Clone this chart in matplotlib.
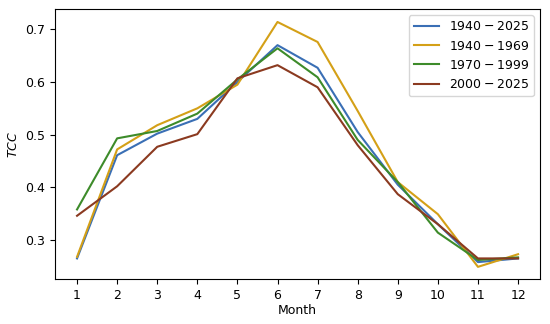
import numpy as np
from matplotlib import pyplot as plt

months = list(range(1, 13))
labels = ['$1940-2025$', '$1940-1969$', '$1970-1999$', '$2000-2025$']
tcc_all = [0.265, 0.461, 0.502, 0.530, 0.600, 0.670, 0.627, 0.505, 0.405, 0.330, 0.258, 0.265]
tcc_4069 = [0.268, 0.472, 0.518, 0.550, 0.595, 0.714, 0.676, 0.545, 0.410, 0.349, 0.249, 0.273]
tcc_7099 = [0.358, 0.493, 0.507, 0.540, 0.605, 0.664, 0.609, 0.490, 0.410, 0.314, 0.262, 0.267]
tcc_0025 = [0.346, 0.402, 0.477, 0.501, 0.607, 0.632, 0.590, 0.480, 0.387, 0.330, 0.265, 0.265]
colors = ['#3a6fb5', '#d4a017', '#3d8b2a', '#8b3a20']

fig = plt.figure(figsize=(5.5, 3.24), dpi=100)
ax = fig.add_axes([0.1, 0.139, 0.882, 0.833])
for series, lab, col in zip([tcc_all, tcc_4069, tcc_7099, tcc_0025], labels, colors):
    ax.plot(months, series, color=col, lw=1.5, label=lab)

ax.set_xticks(months)
ax.set_ylim(0.226, 0.7385)
ax.set_yticks([0.3, 0.4, 0.5, 0.6, 0.7])
ax.tick_params(labelsize=9)
ax.set_xlabel('Month', fontsize=9, labelpad=2)
ax.set_ylabel('$TCC$', fontsize=9)
ax.legend(loc='upper right', fontsize=9, handlelength=2.0)

fig.savefig('out.png', dpi=100)
